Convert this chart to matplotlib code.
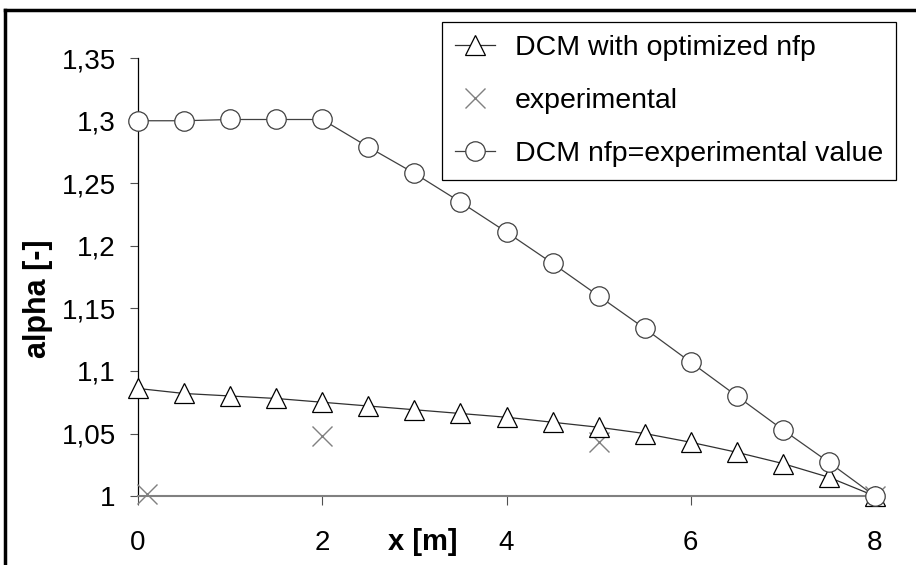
import matplotlib
matplotlib.use("Agg")
import matplotlib.pyplot as plt
from matplotlib.lines import Line2D

plt.rcParams['font.family'] = ['Liberation Sans', 'DejaVu Sans']

# values
x_model = [0, 0.5, 1, 1.5, 2, 2.5, 3, 3.5, 4, 4.5, 5, 5.5, 6, 6.5, 7, 7.5, 8]
alpha_opt = [1.086, 1.082, 1.080, 1.078, 1.075, 1.072, 1.069, 1.066, 1.063,
             1.059, 1.055, 1.050, 1.043, 1.035, 1.026, 1.015, 1.000]
alpha_expnfp = [1.300, 1.300, 1.301, 1.301, 1.301, 1.279, 1.258, 1.235, 1.211,
                1.186, 1.160, 1.134, 1.107, 1.080, 1.053, 1.027, 1.000]
x_exp = [0.1, 2, 5, 8]
alpha_exp = [1.002, 1.048, 1.043, 1.000]

yticks = [1.0, 1.05, 1.1, 1.15, 1.2, 1.25, 1.3, 1.35]
xticks = [0, 2, 4, 6, 8]

fig = plt.figure(figsize=(9.16, 5.65), dpi=100)
ax = fig.add_axes([0.1507, 0.122, 0.8045, 0.775])

ax.plot(x_exp, alpha_exp, linestyle='none', marker='x', ms=14, mew=1.0,
        color='#808080', clip_on=False, zorder=3, label='experimental')
ax.plot(x_model, alpha_opt, color='#303030', lw=0.9, marker='^', ms=15,
        mfc='white', mec='black', mew=0.9, clip_on=False, zorder=4,
        label='DCM with optimized nfp')
ax.plot(x_model, alpha_expnfp, color='#404040', lw=0.9, marker='o', ms=14,
        mfc='white', mec='#404040', mew=0.9, clip_on=False, zorder=5,
        label='DCM nfp=experimental value')

ax.set_xlim(0, 8)
ax.set_ylim(1.0, 1.35)
ax.set_xticks(xticks)
ax.set_yticks(yticks)
ax.set_yticklabels([f'{v:g}'.replace('.', ',') for v in yticks])
ax.tick_params(axis='both', labelsize=20, direction='out', color='#505050')
ax.tick_params(axis='x', length=6.5, pad=18)
ax.tick_params(axis='y', length=6, pad=10)

for s in ['top', 'right']:
    ax.spines[s].set_visible(False)
ax.spines['left'].set_color('black')
ax.spines['left'].set_linewidth(0.9)
ax.spines['bottom'].set_color('#808080')
ax.spines['bottom'].set_linewidth(1.5)

ax.set_xlabel('x [m]', fontsize=21, fontweight='bold')
ax.xaxis.set_label_coords(0.387, -0.073)
ax.set_ylabel('alpha [-]', fontsize=22, fontweight='bold')
ax.yaxis.set_label_coords(-0.115, 0.45)

h, l = ax.get_legend_handles_labels()
order = [1, 0, 2]
leg = ax.legend([h[i] for i in order], [l[i] for i in order],
                loc='upper right', bbox_to_anchor=(0.978, 0.961),
                bbox_transform=fig.transFigure, fontsize=20.5, frameon=True,
                fancybox=False, edgecolor='black', framealpha=1,
                borderpad=0.45, labelspacing=0.95, handlelength=1.4,
                handletextpad=0.7, borderaxespad=0)
leg.get_frame().set_linewidth(0.9)

# outer frame (top and left edge of the cut-out picture)
fig.add_artist(Line2D([5 / 916, 1], [1 - 10 / 565, 1 - 10 / 565],
                      transform=fig.transFigure, color='black', lw=2.5))
fig.add_artist(Line2D([5 / 916, 5 / 916], [0, 1 - 10 / 565],
                      transform=fig.transFigure, color='black', lw=2.5))

fig.savefig('out.png', dpi=100)
